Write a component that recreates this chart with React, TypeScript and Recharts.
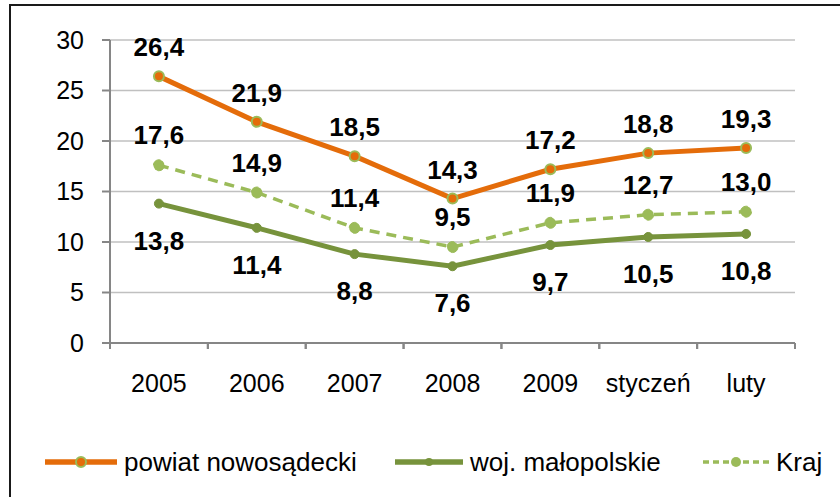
import React from "react";
import {
  LineChart,
  Line,
  XAxis,
  YAxis,
  CartesianGrid,
  LabelList,
} from "recharts";

const categories = ["2005", "2006", "2007", "2008", "2009", "styczeń", "luty"];
const powiat = [26.4, 21.9, 18.5, 14.3, 17.2, 18.8, 19.3];
const wojewodztwo = [13.8, 11.4, 8.8, 7.6, 9.7, 10.5, 10.8];
const kraj = [17.6, 14.9, 11.4, 9.5, 11.9, 12.7, 13.0];
const yTicks = [0, 5, 10, 15, 20, 25, 30];

const ORANGE = "#E46C0A";
const OLIVE = "#77933C";
const LIGHT = "#9BBB59";
const AXIS = "#868686";
const FONT = "'Liberation Sans', Arial, sans-serif";

const data = categories.map((cat, i) => ({
  cat,
  powiat: powiat[i],
  woj: wojewodztwo[i],
  kraj: kraj[i],
}));

const fmt = (v: number) => v.toFixed(1).replace(".", ",");

function makeLabel(dy: number) {
  return (props: any) => {
    const { x, y, value } = props;
    return (
      <text
        x={x}
        y={y + dy}
        textAnchor="middle"
        dominantBaseline="central"
        fontFamily={FONT}
        fontWeight="bold"
        fontSize={26}
        fill="#000"
      >
        {fmt(Number(value))}
      </text>
    );
  };
}

// category ticks sit between categories like in Excel
const BAND = (795 - 110) / categories.length;
function XTick(props: any) {
  const { x, y, payload } = props;
  return (
    <g>
      <line x1={x - BAND / 2} x2={x - BAND / 2} y1={y - 8} y2={y - 2} stroke={AXIS} strokeWidth={2} />
      <line x1={x + BAND / 2} x2={x + BAND / 2} y1={y - 8} y2={y - 2} stroke={AXIS} strokeWidth={2} />
      <text
        x={x}
        y={y + 41}
        textAnchor="middle"
        fontFamily={FONT}
        fontSize={25}
        fill="#000"
      >
        {payload.value}
      </text>
    </g>
  );
}

function LegendItem({
  left,
  color,
  dash,
  label,
  dot,
  width,
}: {
  left: number;
  color: string;
  dash?: string;
  label: string;
  dot: { r: number; fill: string; stroke?: string };
  width: number;
}) {
  return (
    <div style={{ position: "absolute", left, top: 0, display: "flex", alignItems: "center" }}>
      <svg width={width} height={16} style={{ marginRight: 6 }}>
        <line
          x1={1}
          x2={width - 1}
          y1={8}
          y2={8}
          stroke={color}
          strokeWidth={dash ? 3.5 : 5.5}
          strokeDasharray={dash}
        />
        <circle
          cx={width / 2}
          cy={8}
          r={dot.r}
          fill={dot.fill}
          stroke={dot.stroke ?? "none"}
          strokeWidth={2}
        />
      </svg>
      <span style={{ whiteSpace: "nowrap" }}>{label}</span>
    </div>
  );
}

export default function App() {
  return (
    <div
      style={{
        position: "absolute",
        left: 0,
        top: 0,
        width: 840,
        height: 497,
        background: "#fff",
        overflow: "hidden",
      }}
    >
      <div
        style={{
          position: "absolute",
          left: 9,
          top: 4,
          width: 840,
          height: 520,
          border: "2px solid #1a1a1a",
          boxSizing: "border-box",
        }}
      />
      <div style={{ position: "absolute", left: 0, top: 0 }}>
        <LineChart
          width={840}
          height={497}
          data={data}
          margin={{ top: 40, right: 45, left: 0, bottom: 124 }}
        >
          <CartesianGrid vertical={false} stroke="#c0c0c0" strokeWidth={1.5} />
          <XAxis
            dataKey="cat"
            scale="band"
            axisLine={{ stroke: AXIS, strokeWidth: 2 }}
            tickLine={false}
            tick={<XTick />}
            height={30}
            interval={0}
          />
          <YAxis
            domain={[0, 30]}
            ticks={yTicks}
            width={110}
            axisLine={{ stroke: AXIS, strokeWidth: 2 }}
            tickLine={{ stroke: AXIS, strokeWidth: 2 }}
            tickSize={8}
            tickMargin={18}
            tick={{ fontFamily: FONT, fontSize: 25, fill: "#000" }}
          />
          <Line
            dataKey="kraj"
            stroke={LIGHT}
            strokeWidth={3.5}
            strokeDasharray="10 7"
            dot={{ r: 5.5, fill: LIGHT, stroke: LIGHT, strokeWidth: 1 }}
            isAnimationActive={false}
          >
            <LabelList dataKey="kraj" content={makeLabel(-30)} />
          </Line>
          <Line
            dataKey="woj"
            stroke={OLIVE}
            strokeWidth={5}
            dot={{ r: 4.5, fill: OLIVE, stroke: OLIVE, strokeWidth: 1 }}
            isAnimationActive={false}
          >
            <LabelList dataKey="woj" content={makeLabel(37)} />
          </Line>
          <Line
            dataKey="powiat"
            stroke={ORANGE}
            strokeWidth={5}
            dot={{ r: 5, fill: ORANGE, stroke: LIGHT, strokeWidth: 2 }}
            isAnimationActive={false}
          >
            <LabelList dataKey="powiat" content={makeLabel(-29)} />
          </Line>
        </LineChart>
      </div>
      <div
        style={{
          position: "absolute",
          left: 0,
          top: 447,
          width: 840,
          fontFamily: FONT,
          fontSize: 26,
          lineHeight: "30px",
          color: "#000",
        }}
      >
        <LegendItem
          left={44}
          color={ORANGE}
          label="powiat nowosądecki"
          dot={{ r: 5, fill: ORANGE, stroke: LIGHT }}
          width={74}
        />
        <LegendItem
          left={394}
          color={OLIVE}
          label="woj. małopolskie"
          dot={{ r: 4, fill: OLIVE }}
          width={70}
        />
        <LegendItem
          left={702}
          color={LIGHT}
          dash="6 4"
          label="Kraj"
          dot={{ r: 5, fill: LIGHT }}
          width={68}
        />
      </div>
    </div>
  );
}
